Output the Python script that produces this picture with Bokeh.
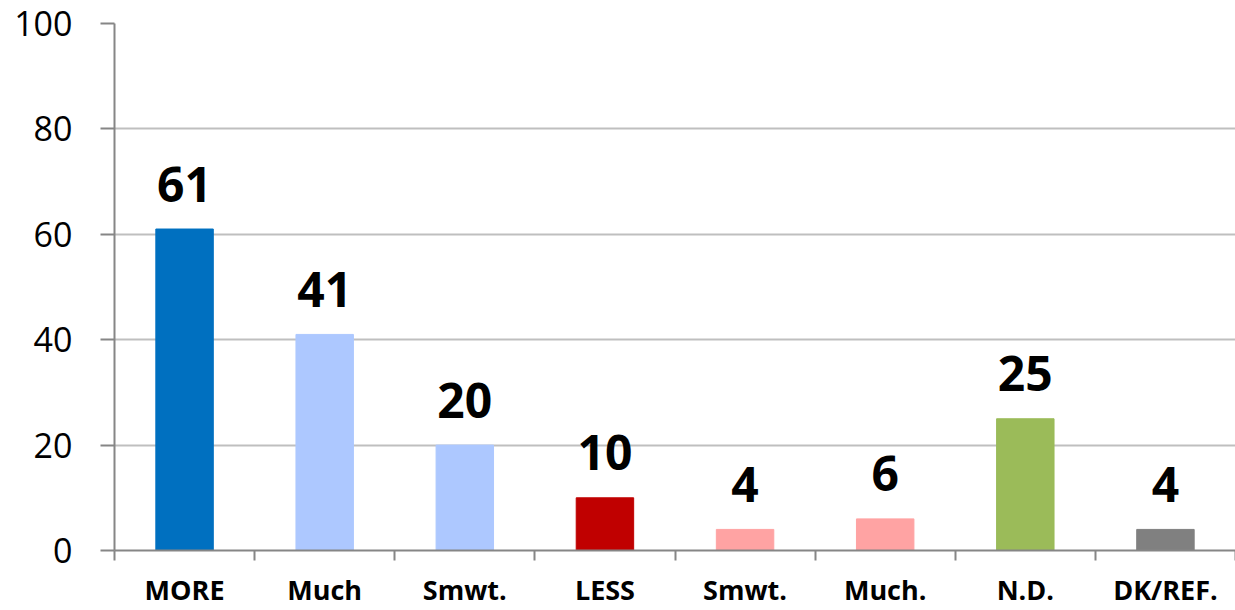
from bokeh.plotting import figure
from bokeh.models import Range1d, FixedTicker
from bokeh.core.properties import value
from bokeh.embed import file_html
from bokeh.resources import INLINE

categories = ["MORE", "Much", "Smwt.", "LESS", "Smwt.", "Much.", "N.D.", "DK/REF."]
values = [61, 41, 20, 10, 4, 6, 25, 4]
colors = ["#0070C0", "#ADC8FF", "#ADC8FF", "#C00000", "#FFA3A3", "#FFA3A3", "#9BBB59", "#808080"]
y_ticks = [0, 20, 40, 60, 80, 100]

positions = [i + 0.5 for i in range(len(categories))]
boundaries = list(range(len(categories) + 1))

p = figure(width=1235, height=610,
           x_range=Range1d(0, len(categories)), y_range=Range1d(0, 100),
           output_backend="svg", toolbar_location=None,
           min_border_left=114, min_border_top=23, min_border_right=0, min_border_bottom=60)
p.outline_line_color = None
p.background_fill_color = "white"

p.vbar(x=positions, top=values, width=0.41, color=colors)
p.text(x=positions, y=values, text=[str(v) for v in values],
       text_font=value("Open Sans"), text_font_style="bold", text_font_size="48px",
       text_align="center", text_baseline="alphabetic", text_color="black", y_offset=-45)

# x axis
xa = p.xaxis[0]
xa.ticker = FixedTicker(ticks=positions, minor_ticks=boundaries)
xa.major_label_overrides = {pos: cat for pos, cat in zip(positions, categories)}
xa.major_tick_line_color = None
xa.major_tick_in = 0
xa.major_tick_out = 0
xa.minor_tick_in = 0
xa.minor_tick_out = 10
xa.minor_tick_line_color = "#868686"
xa.minor_tick_line_width = 2
xa.axis_line_color = "#868686"
xa.axis_line_width = 2
xa.major_label_standoff = 10
xa.major_label_text_font = "Open Sans"
xa.major_label_text_font_style = "bold"
xa.major_label_text_font_size = "27px"
xa.major_label_text_color = "black"

# y axis
ya = p.yaxis[0]
ya.ticker = FixedTicker(ticks=y_ticks, minor_ticks=[])
ya.major_tick_in = 0
ya.major_tick_out = 14
ya.major_tick_line_color = "#868686"
ya.major_tick_line_width = 2
ya.axis_line_color = "#868686"
ya.axis_line_width = 2
ya.major_label_standoff = 28
ya.major_label_text_font = "Open Sans"
ya.major_label_text_font_size = "34px"
ya.major_label_text_color = "black"

p.xgrid.visible = False
p.ygrid.grid_line_color = "#BFBFBF"
p.ygrid.grid_line_width = 2

open("out.html", "w").write(file_html(p, INLINE))
